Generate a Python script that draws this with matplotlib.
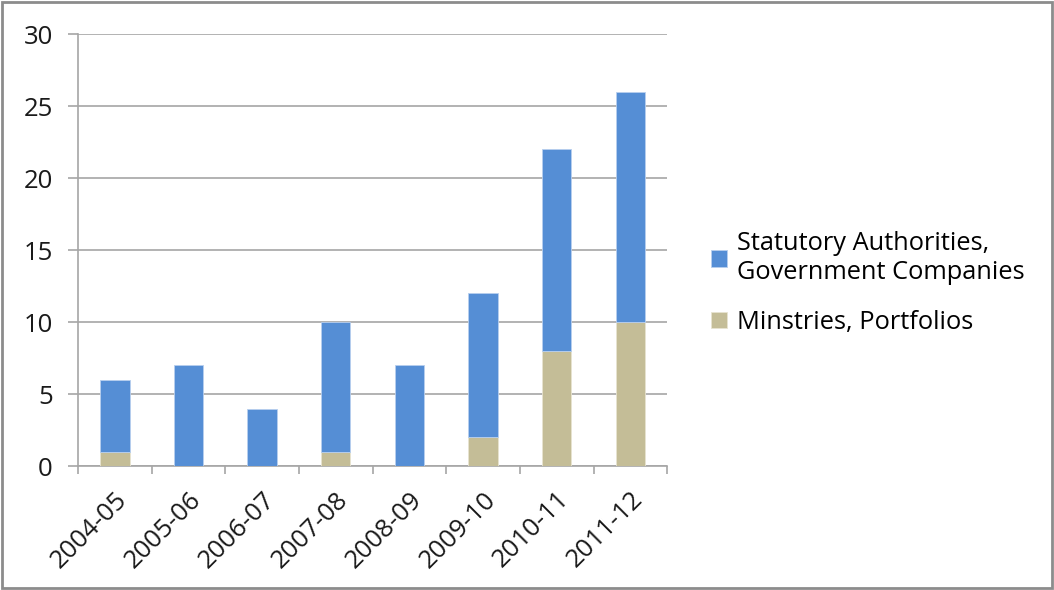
import numpy as np
import matplotlib.pyplot as plt
import matplotlib.transforms as mtransforms
from matplotlib.patches import Rectangle

years = ['2004-05', '2005-06', '2006-07', '2007-08', '2008-09', '2009-10', '2010-11', '2011-12']
ministries = [1, 0, 0, 1, 0, 2, 8, 10]
statutory = [5, 7, 4, 9, 7, 10, 14, 16]

blue = '#558ED5'
tan = '#C4BD97'
grid_col = '#A6A6A6'
txt = '#1a1a1a'
fs = 18.5

plt.rcParams['font.family'] = ['Open Sans', 'DejaVu Sans']

fig = plt.figure(figsize=(10.54, 5.90), dpi=100)
ax = fig.add_axes([0.074, 0.210, 0.559, 0.732])

x = np.arange(len(years))
ax.bar(x, ministries, width=0.4, color=tan, edgecolor='#E8E4D0', linewidth=0.6,
       label='Minstries, Portfolios', zorder=3)
ax.bar(x, statutory, width=0.4, bottom=ministries, color=blue, edgecolor='#B8CFEE',
       linewidth=0.6, label='Statutory Authorities,\nGovernment Companies', zorder=3)

ax.set_ylim(0, 30)
ax.set_xlim(-0.5, len(years) - 0.5)
ax.set_yticks(range(0, 31, 5))
ax.yaxis.grid(True, color=grid_col, linewidth=1.2, zorder=0)

# category boundaries as tick marks, labels at centers
ax.set_xticks(np.arange(-0.5, len(years), 1.0))
ax.set_xticklabels([])
ax.set_xticks(x, minor=True)
ax.set_xticklabels(years, minor=True, rotation=45, ha='right', va='top',
                   rotation_mode='anchor', fontsize=fs, color=txt)
ax.tick_params(axis='x', which='minor', length=0, pad=15)
ax.tick_params(axis='x', which='major', length=6, color=grid_col, width=1.2)
ax.tick_params(axis='y', length=7, color=grid_col, width=1.2, labelsize=fs,
               labelcolor=txt, pad=11)

# nudge the rotated labels so their ends sit just right of the bar centers
offset = mtransforms.ScaledTranslation(0, 0, fig.dpi_scale_trans)
for lab in ax.get_xticklabels(minor=True):
    lab.set_transform(lab.get_transform() + offset)

for s in ['top', 'right']:
    ax.spines[s].set_visible(False)
for s in ['left', 'bottom']:
    ax.spines[s].set_color(grid_col)
    ax.spines[s].set_linewidth(1.2)

handles, labels = ax.get_legend_handles_labels()
fig.legend(handles[::-1], labels[::-1], loc='center left', bbox_to_anchor=(0.675, 0.520),
           frameon=False, fontsize=18.3, handlelength=0.6, handleheight=0.6,
           handletextpad=0.4, labelspacing=1.0, borderaxespad=0, borderpad=0)

fig.patches.append(Rectangle((0.002, 0.003), 0.996, 0.994, transform=fig.transFigure,
                             fill=False, edgecolor='#8C8C8C', linewidth=2))

fig.savefig('out.png', dpi=100)
